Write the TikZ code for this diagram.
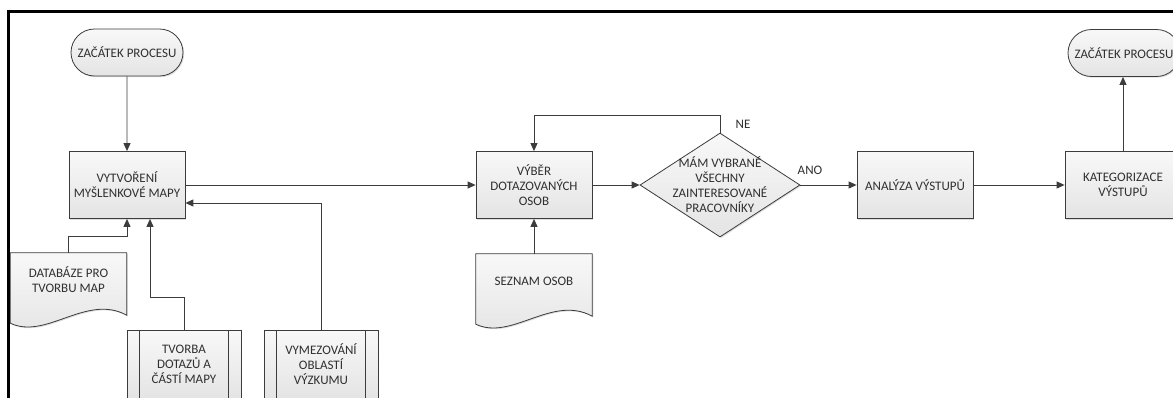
\documentclass[tikz,border=0pt]{standalone}
\usepackage{fontspec}
\setmainfont{Carlito}
\usetikzlibrary{arrows.meta,shapes.geometric,shapes.misc,shadows,calc,backgrounds}
\definecolor{linecol}{HTML}{3C3C3C}
\definecolor{txtcol}{HTML}{303030}
\definecolor{filltop}{HTML}{F8F8F8}
\definecolor{fillbot}{HTML}{E4E4E4}
\begin{document}
\begin{tikzpicture}[x=1pt, y=-1pt,
  every node/.style={font=\fontsize{13}{15}\selectfont, text=txtcol},
  shape base/.style={draw=linecol, line width=0.8pt, top color=filltop, bottom color=fillbot,
    drop shadow={shadow xshift=1.2pt, shadow yshift=-1.2pt, opacity=0.25}},
  box/.style={shape base, rectangle, minimum width=116, minimum height=67, align=center, inner sep=2pt},
  term/.style={shape base, rounded rectangle, minimum width=116, minimum height=47, inner sep=2pt},
  decision/.style={shape base, diamond, minimum width=160, minimum height=104, inner sep=0pt},
  subproc/.style={shape base, rectangle, minimum width=114, minimum height=68, align=center, inner sep=2pt, anchor=north},
  docnode/.style={rectangle, minimum width=116, minimum height=54, align=center, inner sep=2pt},
  docshape/.style={shape base},
  conn/.style={draw=linecol, line width=0.9pt, -{Triangle[length=8pt,width=7pt]}},
  lbl/.style={inner sep=0pt}
]
\useasboundingbox (0,0) rectangle (1173,397);
\clip (0,0) rectangle (1173,397);

% main flow
\node[term] (start) at (127,52.5) {ZAČÁTEK PROCESU};
\node[box] (mapa) at (127,185) {VYTVOŘENÍ\\MYŠLENKOVÉ MAPY};
\node[box] (vyber) at (534,185) {VÝBĚR\\DOTAZOVANÝCH\\OSOB};
\node[decision, label={[align=center, font=\fontsize{13}{15}\selectfont, text=txtcol]center:MÁM VYBRANÉ\\VŠECHNY\\ZAINTERESOVANÉ\\PRACOVNÍKY}] (dotaz) at (720,185) {};
\node[box] (analyza) at (915,185) {ANALÝZA VÝSTUPŮ};
\node[box] (kateg) at (1123,185) {KATEGORIZACE\\VÝSTUPŮ};
\node[term] (konec) at (1124,53) {ZAČÁTEK PROCESU};

% documents (text nodes; the wavy outline is drawn behind them)
\node[docnode] (db) at (68.5,280) {DATABÁZE PRO\\TVORBU MAP};
\node[docnode] (seznam) at (534,281) {SEZNAM OSOB};

% predefined processes
\node[subproc] (tvorba) at (184,330) {TVORBA\\DOTAZŮ A\\ČÁSTÍ MAPY};
\node[subproc] (vymez) at (321,330) {VYMEZOVÁNÍ\\OBLASTÍ\\VÝZKUMU};
\foreach \n in {tvorba,vymez} {
  \draw[linecol, line width=0.8pt] ($(\n.north west)+(13,0)$) -- ($(\n.south west)+(13,0)$);
  \draw[linecol, line width=0.8pt] ($(\n.north east)+(-13,0)$) -- ($(\n.south east)+(-13,0)$);
}

\begin{pgfonlayer}{background}
  \fill[white] (0,0) rectangle (1173,397);
  \foreach \n in {db,seznam} {
    \draw[docshape] (\n.north west) -- (\n.north east) -- ($(\n.south east)+(0,8)$)
      .. controls +(-40,-22) and +(36,17) .. ($(\n.south west)+(0,16)$) -- cycle;
  }
\end{pgfonlayer}

% outer frame (top and left sides)
\draw[line width=3pt, black] (8.5,400) -- (8.5,11.5) -- (1176,11.5);

% connectors
\draw[conn] (start) -- (mapa);
\draw[conn] (mapa.east) -- (vyber.west);
\draw[conn] (vyber) -- (dotaz);
\draw[conn] (dotaz.north) -- ++(0,-17) -| (vyber.north);
\draw[conn] (dotaz.east) -- (analyza.west);
\draw[conn] (analyza) -- (kateg);
\draw[conn] (kateg.north) -- (kateg.north |- konec.south);
\draw[conn] (db.north) -- ++(0,-16) -| (mapa.south);
\draw[conn] (tvorba.north) -- ++(0,-33) -| ($(mapa.south)+(23,0)$);
\draw[conn] (vymez.north) |- ($(mapa.east)+(0,18)$);
\draw[conn] (seznam.north) -- (vyber.south);

% branch labels
\node[lbl] (ne) at (743,124) {NE};
\node[lbl] (ano) at (810,170) {ANO};
\end{tikzpicture}
\end{document}
